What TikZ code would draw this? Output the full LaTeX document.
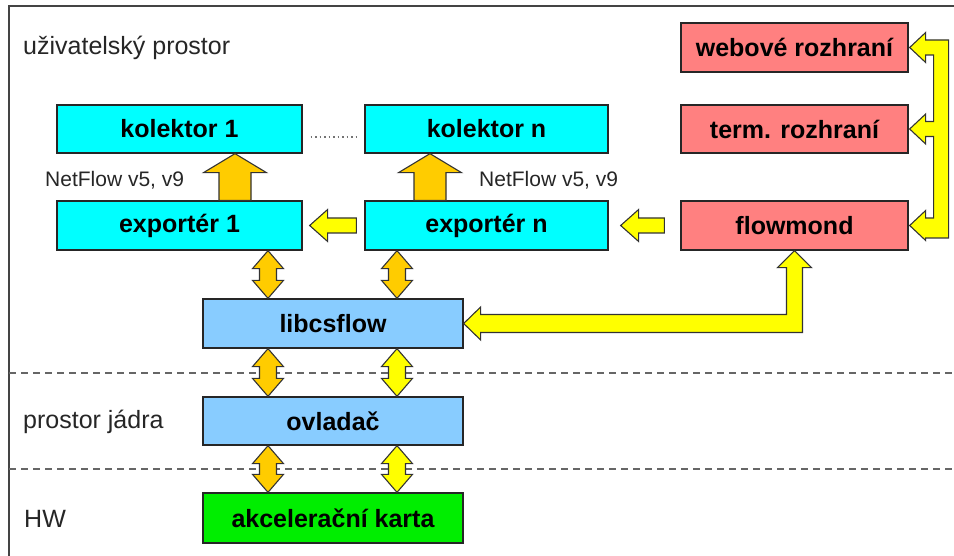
\documentclass[tikz,border=0pt]{standalone}
\usepackage{fontspec}
\setmainfont{Liberation Sans}
\usetikzlibrary{calc}
\definecolor{cbox}{HTML}{00FFFF}
\definecolor{sbox}{HTML}{FF8080}
\definecolor{bbox}{HTML}{88CCFF}
\definecolor{gbox}{HTML}{00EE00}
\definecolor{agold}{HTML}{FFCC00}
\definecolor{ayel}{HTML}{FFFF00}
\definecolor{frame}{HTML}{444444}
\tikzset{
  box/.style={draw=black!85, line width=1.3pt, inner sep=0pt, minimum height=48pt,
    font=\bfseries\fontsize{25}{29}\selectfont},
  lbl/.style={anchor=base west, inner sep=0pt, font=\fontsize{25}{29}\selectfont, text=black!85},
  nf/.style={anchor=base west, inner sep=0pt, font=\fontsize{21}{25}\selectfont, text=black!85},
  blk/.style={draw=black!80, line width=1.1pt, line join=miter},
  sep/.style={draw=black!60, line width=1.4pt, dash pattern=on 7pt off 5pt},
}
\newcommand{\blkup}[4]{% fill, x, tail anchor, tip anchor
  \draw[blk,fill=#1] let \p1=#3, \p2=#4 in
   (#2pt,\y2) -- ({#2pt+31.5pt},{\y2-19pt}) -- ({#2pt+16pt},{\y2-19pt}) -- ({#2pt+16pt},\y1)
   -- ({#2pt-16pt},\y1) -- ({#2pt-16pt},{\y2-19pt}) -- ({#2pt-31.5pt},{\y2-19pt}) -- cycle;}
\newcommand{\blkdbl}[4]{% fill, x, upper anchor, lower anchor
  \draw[blk,fill=#1] let \p1=#3, \p2=#4 in
   (#2pt,\y1) -- ({#2pt+15.5pt},{\y1-18pt}) -- ({#2pt+8.5pt},{\y1-18pt}) -- ({#2pt+8.5pt},{\y2+18pt})
   -- ({#2pt+15.5pt},{\y2+18pt}) -- (#2pt,\y2) -- ({#2pt-15.5pt},{\y2+18pt}) -- ({#2pt-8.5pt},{\y2+18pt})
   -- ({#2pt-8.5pt},{\y1-18pt}) -- ({#2pt-15.5pt},{\y1-18pt}) -- cycle;}
\newcommand{\blkleft}[5]{% fill, tip anchor, tail anchor, tip gap, tail gap
  \draw[blk,fill=#1] let \p1=#2, \p2=#3 in
   ({\x1+#4pt},\y1) -- ({\x1+#4pt+18pt},{\y1+16pt}) -- ({\x1+#4pt+18pt},{\y1+7.5pt}) -- ({\x2-#5pt},{\y1+7.5pt})
   -- ({\x2-#5pt},{\y1-7.5pt}) -- ({\x1+#4pt+18pt},{\y1-7.5pt}) -- ({\x1+#4pt+18pt},{\y1-16pt}) -- cycle;}
\begin{document}
\begin{tikzpicture}[x=1pt,y=-1pt]
\useasboundingbox (0,0) rectangle (954,556);
\fill[white] (0,0) rectangle (954,556);
% frame
\draw[frame, line width=2pt] (9,556) -- (9,6) -- (954,6);
% separators
\coordinate (s1a) at (9,373); \coordinate (s1b) at (954,373);
\coordinate (s2a) at (9,469); \coordinate (s2b) at (954,469);
\draw[sep] (s1a) -- (s1b);
\draw[sep] (s2a) -- (s2b);
% labels
\node[lbl] (tu) at (23,55) {uživatelský prostor};
\node[lbl] (tk) at (23,428) {prostor jádra};
\node[lbl] (th) at (24,527) {HW};
\node[nf] (nf1) at (45,187) {NetFlow v5, v9};
\node[nf] (nf2) at (479,187) {NetFlow v5, v9};
% boxes
\node[box, fill=cbox, minimum width=245pt] (k1) at (179.5,129) {kolektor 1};
\node[box, fill=cbox, minimum width=245pt, minimum height=49pt] (e1) at (179.5,225.5) {exportér 1};
\node[box, fill=cbox, minimum width=243pt] (kn) at (486.5,129) {kolektor n};
\node[box, fill=cbox, minimum width=243pt, minimum height=49pt] (en) at (486.5,225.5) {exportér n};
\node[box, fill=sbox, minimum width=227pt, minimum height=49pt] (web) at (794.5,47.5) {webové rozhraní};
\node[box, fill=sbox, minimum width=227pt] (term) at (794.5,129) {term. rozhraní};
\node[box, fill=sbox, minimum width=227pt, minimum height=49pt] (flow) at (794.5,225.5) {flowmond};
\node[box, fill=bbox, minimum width=260pt, minimum height=49pt] (lib) at (333,323.5) {libcsflow};
\node[box, fill=bbox, minimum width=260pt] (ovl) at (333,421) {ovladač};
\node[box, fill=gbox, minimum width=260pt, minimum height=50pt] (hw) at (333,518) {akcelerační karta};
% dots between collectors
\draw[black!55, line width=1.3pt, dash pattern=on 1.5pt off 3pt]
  ($(k1.east)+(8,8)$) -- ($(kn.west)+(-8,8)$);
% up arrows
\blkup{agold}{235}{(e1.north)}{(k1.south)}
\blkup{agold}{430}{(en.north)}{(kn.south)}
% left arrows
\blkleft{ayel}{(e1.east)}{(en.west)}{7}{8}
\blkleft{ayel}{(en.east)}{(flow.west)}{12}{16}
% double arrows
\blkdbl{agold}{268}{(e1.south)}{(lib.north)}
\blkdbl{agold}{397}{(en.south)}{(lib.north)}
\blkdbl{agold}{268}{(lib.south)}{(ovl.north)}
\blkdbl{ayel}{397}{(lib.south)}{(ovl.north)}
\blkdbl{agold}{268}{(ovl.south)}{(hw.north)}
\blkdbl{ayel}{397}{(ovl.south)}{(hw.north)}
% L arrow flowmond <-> libcsflow
\draw[blk, fill=ayel] let \p1=(flow.south), \p2=(lib.east) in
  (\x1,\y1) -- ({\x1+17pt},{\y1-17pt}) -- ({\x1+8pt},{\y1-17pt}) -- ({\x1+8pt},{\y2-9pt})
  -- ({\x2+17pt},{\y2-9pt}) -- ({\x2+17pt},{\y2-16.5pt}) -- (\x2,\y2) -- ({\x2+17pt},{\y2+16.5pt})
  -- ({\x2+17pt},{\y2+9pt}) -- ({\x1-8pt},{\y2+9pt}) -- ({\x1-8pt},{\y1-17pt}) -- ({\x1-17pt},{\y1-17pt}) -- cycle;
% bracket arrow to interfaces
\draw[blk, fill=ayel] let \p1=(web.east), \p2=(term.east), \p3=(flow.east) in
  ({\x1+17pt},{\y1+7.5pt}) -- ({\x1+40pt},{\y1+7.5pt}) -- ({\x1+40pt},{\y3-12.5pt}) -- ({\x1+17pt},{\y3-12.5pt})
  -- ({\x1+17pt},{\y3-15pt}) -- ({\x1+1pt},\y3) -- ({\x1+17pt},{\y3+15pt}) -- ({\x1+17pt},{\y3+7.5pt})
  -- ({\x1+25pt},{\y3+7.5pt}) -- ({\x1+25pt},{\y2-7.5pt}) -- ({\x1+17pt},{\y2-7.5pt}) -- ({\x1+17pt},{\y2-15pt})
  -- ({\x1+1pt},\y2) -- ({\x1+17pt},{\y2+15pt}) -- ({\x1+17pt},{\y2+7.5pt}) -- ({\x1+25pt},{\y2+7.5pt})
  -- ({\x1+25pt},{\y1-7.5pt}) -- ({\x1+17pt},{\y1-7.5pt}) -- ({\x1+17pt},{\y1-15pt}) -- ({\x1+1pt},\y1)
  -- ({\x1+17pt},{\y1+15pt}) -- cycle;
\end{tikzpicture}
\end{document}
